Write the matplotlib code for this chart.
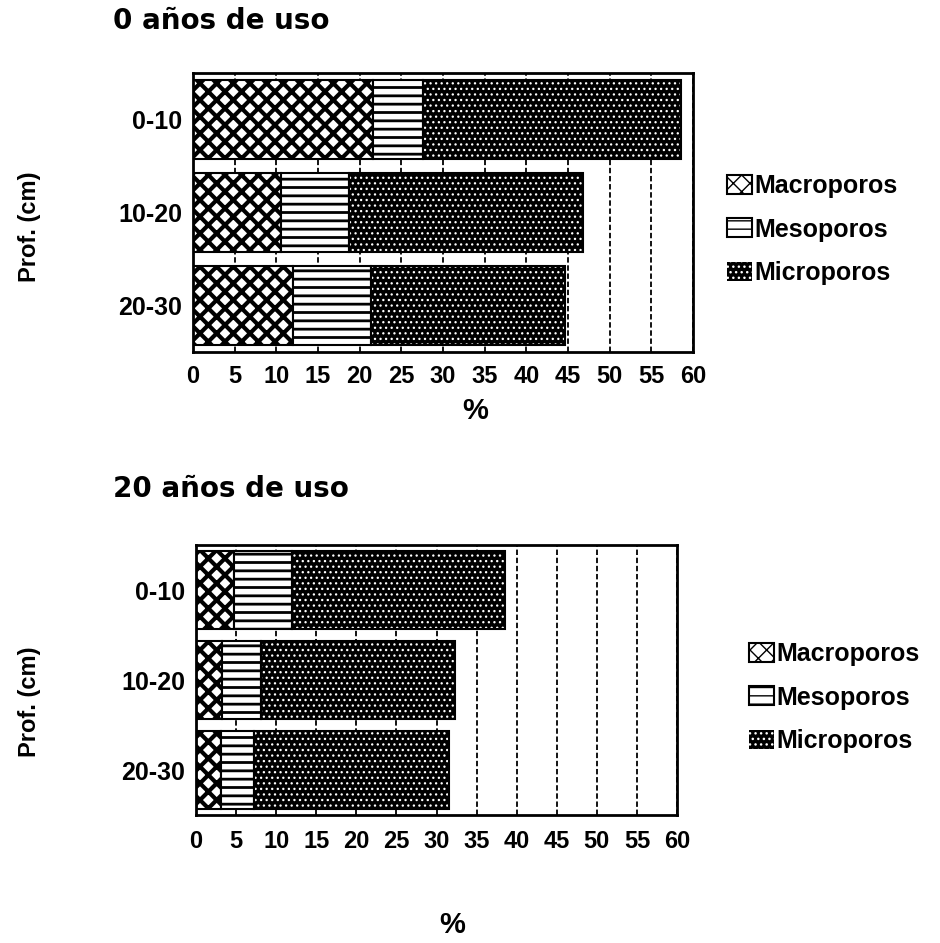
import numpy as np
import matplotlib.pyplot as plt

plt.rcParams['font.family'] = ['Liberation Sans', 'DejaVu Sans']
plt.rcParams['font.weight'] = 'bold'

depths = ['0-10', '10-20', '20-30']
pore_names = ['Macroporos', 'Mesoporos', 'Microporos']

# porosity (%) by depth, soil with 0 years of use
macro_0 = [21.6, 10.5, 12.0]
meso_0 = [6.0, 8.2, 9.4]
micro_0 = [31.0, 28.1, 23.2]

# porosity (%) by depth, soil with 20 years of use
macro_20 = [4.75, 3.2, 3.1]
meso_20 = [7.25, 4.9, 4.15]
micro_20 = [26.5, 24.2, 24.35]

xticks = list(range(0, 61, 5))


def draw_panel(ax, macro, meso, micro, xpad):
    y = np.arange(len(depths))
    h = 0.86
    macro = np.array(macro)
    meso = np.array(meso)
    micro = np.array(micro)

    with plt.rc_context({'hatch.linewidth': 3.0}):
        b1 = ax.barh(y, macro, height=h, color='white', edgecolor='black',
                     hatch='xx', linewidth=1.5, zorder=2)
    with plt.rc_context({'hatch.linewidth': 2.0}):
        b2 = ax.barh(y, meso, left=macro, height=h, color='white',
                     edgecolor='black', hatch='--', linewidth=1.5, zorder=2)
    with plt.rc_context({'hatch.linewidth': 0.9}):
        b3 = ax.barh(y, micro, left=macro + meso, height=h, color='black',
                     edgecolor='white', hatch='...', linewidth=0, zorder=2)
    ax.barh(y, micro, left=macro + meso, height=h, fill=False,
            edgecolor='black', linewidth=1.5, zorder=3)

    ax.set_xlim(0, 60)
    ax.set_ylim(2.5, -0.5)
    ax.set_xticks(xticks)
    ax.set_yticks(y)
    ax.set_yticklabels(depths)
    ax.tick_params(axis='x', length=0, pad=xpad, labelsize=17)
    ax.tick_params(axis='y', length=0, pad=8, labelsize=18)
    ax.grid(axis='x', color='black', linestyle=(0, (3, 1.5)), linewidth=1.3)
    ax.set_axisbelow(True)
    for s in ax.spines.values():
        s.set_linewidth(2)
    return [b1, b2, b3]


fig = plt.figure(figsize=(9.4, 9.43), dpi=100)

ax1 = fig.add_axes([193 / 940, 1 - 352 / 943, 500 / 940, 279 / 943])
bars1 = draw_panel(ax1, macro_0, meso_0, micro_0, 9)

ax2 = fig.add_axes([196 / 940, 1 - 815 / 943, 481 / 940, 270 / 943])
bars2 = draw_panel(ax2, macro_20, meso_20, micro_20, 11)

fig.text(113 / 940, 1 - 21 / 943, '0 años de uso', family='DejaVu Sans',
         fontsize=20, fontweight='heavy', va='center', ha='left')
fig.text(113 / 940, 1 - 489 / 943, '20 años de uso', family='DejaVu Sans',
         fontsize=20, fontweight='heavy', va='center', ha='left')

for yc in (227, 702):
    fig.text(30 / 940, 1 - yc / 943, 'Prof. (cm)', rotation=90, fontsize=17,
             ha='center', va='center')

fig.text(475 / 940, 1 - 411 / 943, '%', fontsize=21, ha='center', va='center')
fig.text(452 / 940, 1 - 925 / 943, '%', fontsize=21, ha='center', va='center')

fig.legend(bars1, pore_names, loc='upper left',
           bbox_to_anchor=(727 / 940, 1 - 174 / 943), frameon=False,
           fontsize=18, handlelength=1.0, handleheight=0.8,
           handletextpad=0.1, labelspacing=0.78, borderpad=0,
           borderaxespad=0)
fig.legend(bars2, pore_names, loc='upper left',
           bbox_to_anchor=(749 / 940, 1 - 642 / 943), frameon=False,
           fontsize=18, handlelength=1.0, handleheight=0.8,
           handletextpad=0.1, labelspacing=0.78, borderpad=0,
           borderaxespad=0)

fig.savefig('out.png', dpi=100)
